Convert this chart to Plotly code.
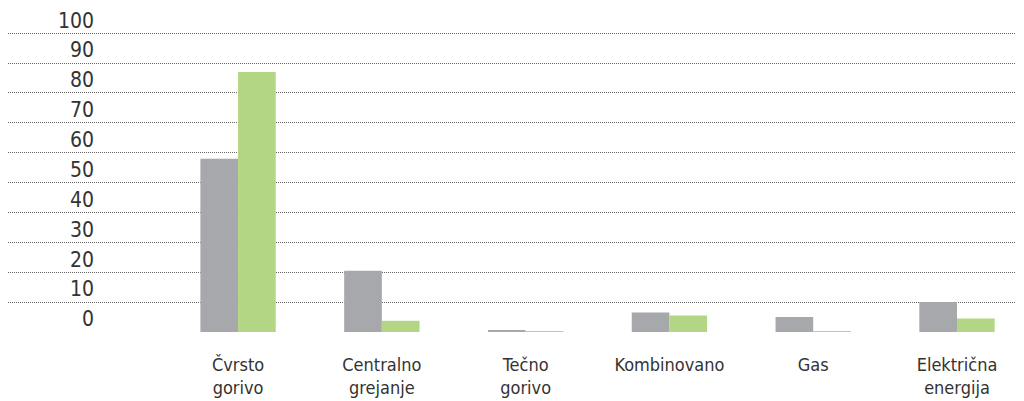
import plotly.graph_objects as go

categories = ["Čvrsto<br>gorivo", "Centralno<br>grejanje", "Tečno<br>gorivo",
              "Kombinovano", "Gas", "Električna<br>energija"]
series_gray = [58, 20.5, 0.4, 6.5, 5, 10]
series_green = [87, 3.8, 0.3, 5.5, 0.3, 4.5]
y_ticks = [0, 10, 20, 30, 40, 50, 60, 70, 80, 90, 100]

xs = list(range(len(categories)))

fig = go.Figure()
fig.add_trace(go.Bar(x=xs, y=series_gray, marker_color="#A7A8AC", marker_line_width=0))
fig.add_trace(go.Bar(x=xs, y=series_green, marker_color="#B3D684", marker_line_width=0))

font = "DejaVu Sans Condensed, DejaVu Sans, sans-serif"

# page body adds 8px margin, so the figure is 1016 x 393
fig.update_layout(
    width=1016, height=393,
    margin=dict(l=0, r=0, t=24, b=69, autoexpand=False),
    paper_bgcolor="white", plot_bgcolor="white",
    barmode="group", bargap=0.476, bargroupgap=0,
    showlegend=False,
    font=dict(family=font, color="#333333"),
    xaxis=dict(
        range=[-1.6, 5.466], tickvals=xs, ticktext=categories,
        showgrid=False, zeroline=False, ticks="", ticklabelstandoff=20,
        automargin=False,
        tickfont=dict(size=18, color="#333333"),
    ),
    yaxis=dict(
        range=[0, 100.4], tickvals=y_ticks,
        anchor="free", position=0.0866, automargin=False,
        showgrid=True, gridcolor="#666666", griddash="1px,1px", gridwidth=1,
        zeroline=False, ticks="", ticklabelshift=-13, ticklabelstandoff=2,
        tickfont=dict(size=21, color="#333333"),
    ),
)

fig.write_html("out.html")
